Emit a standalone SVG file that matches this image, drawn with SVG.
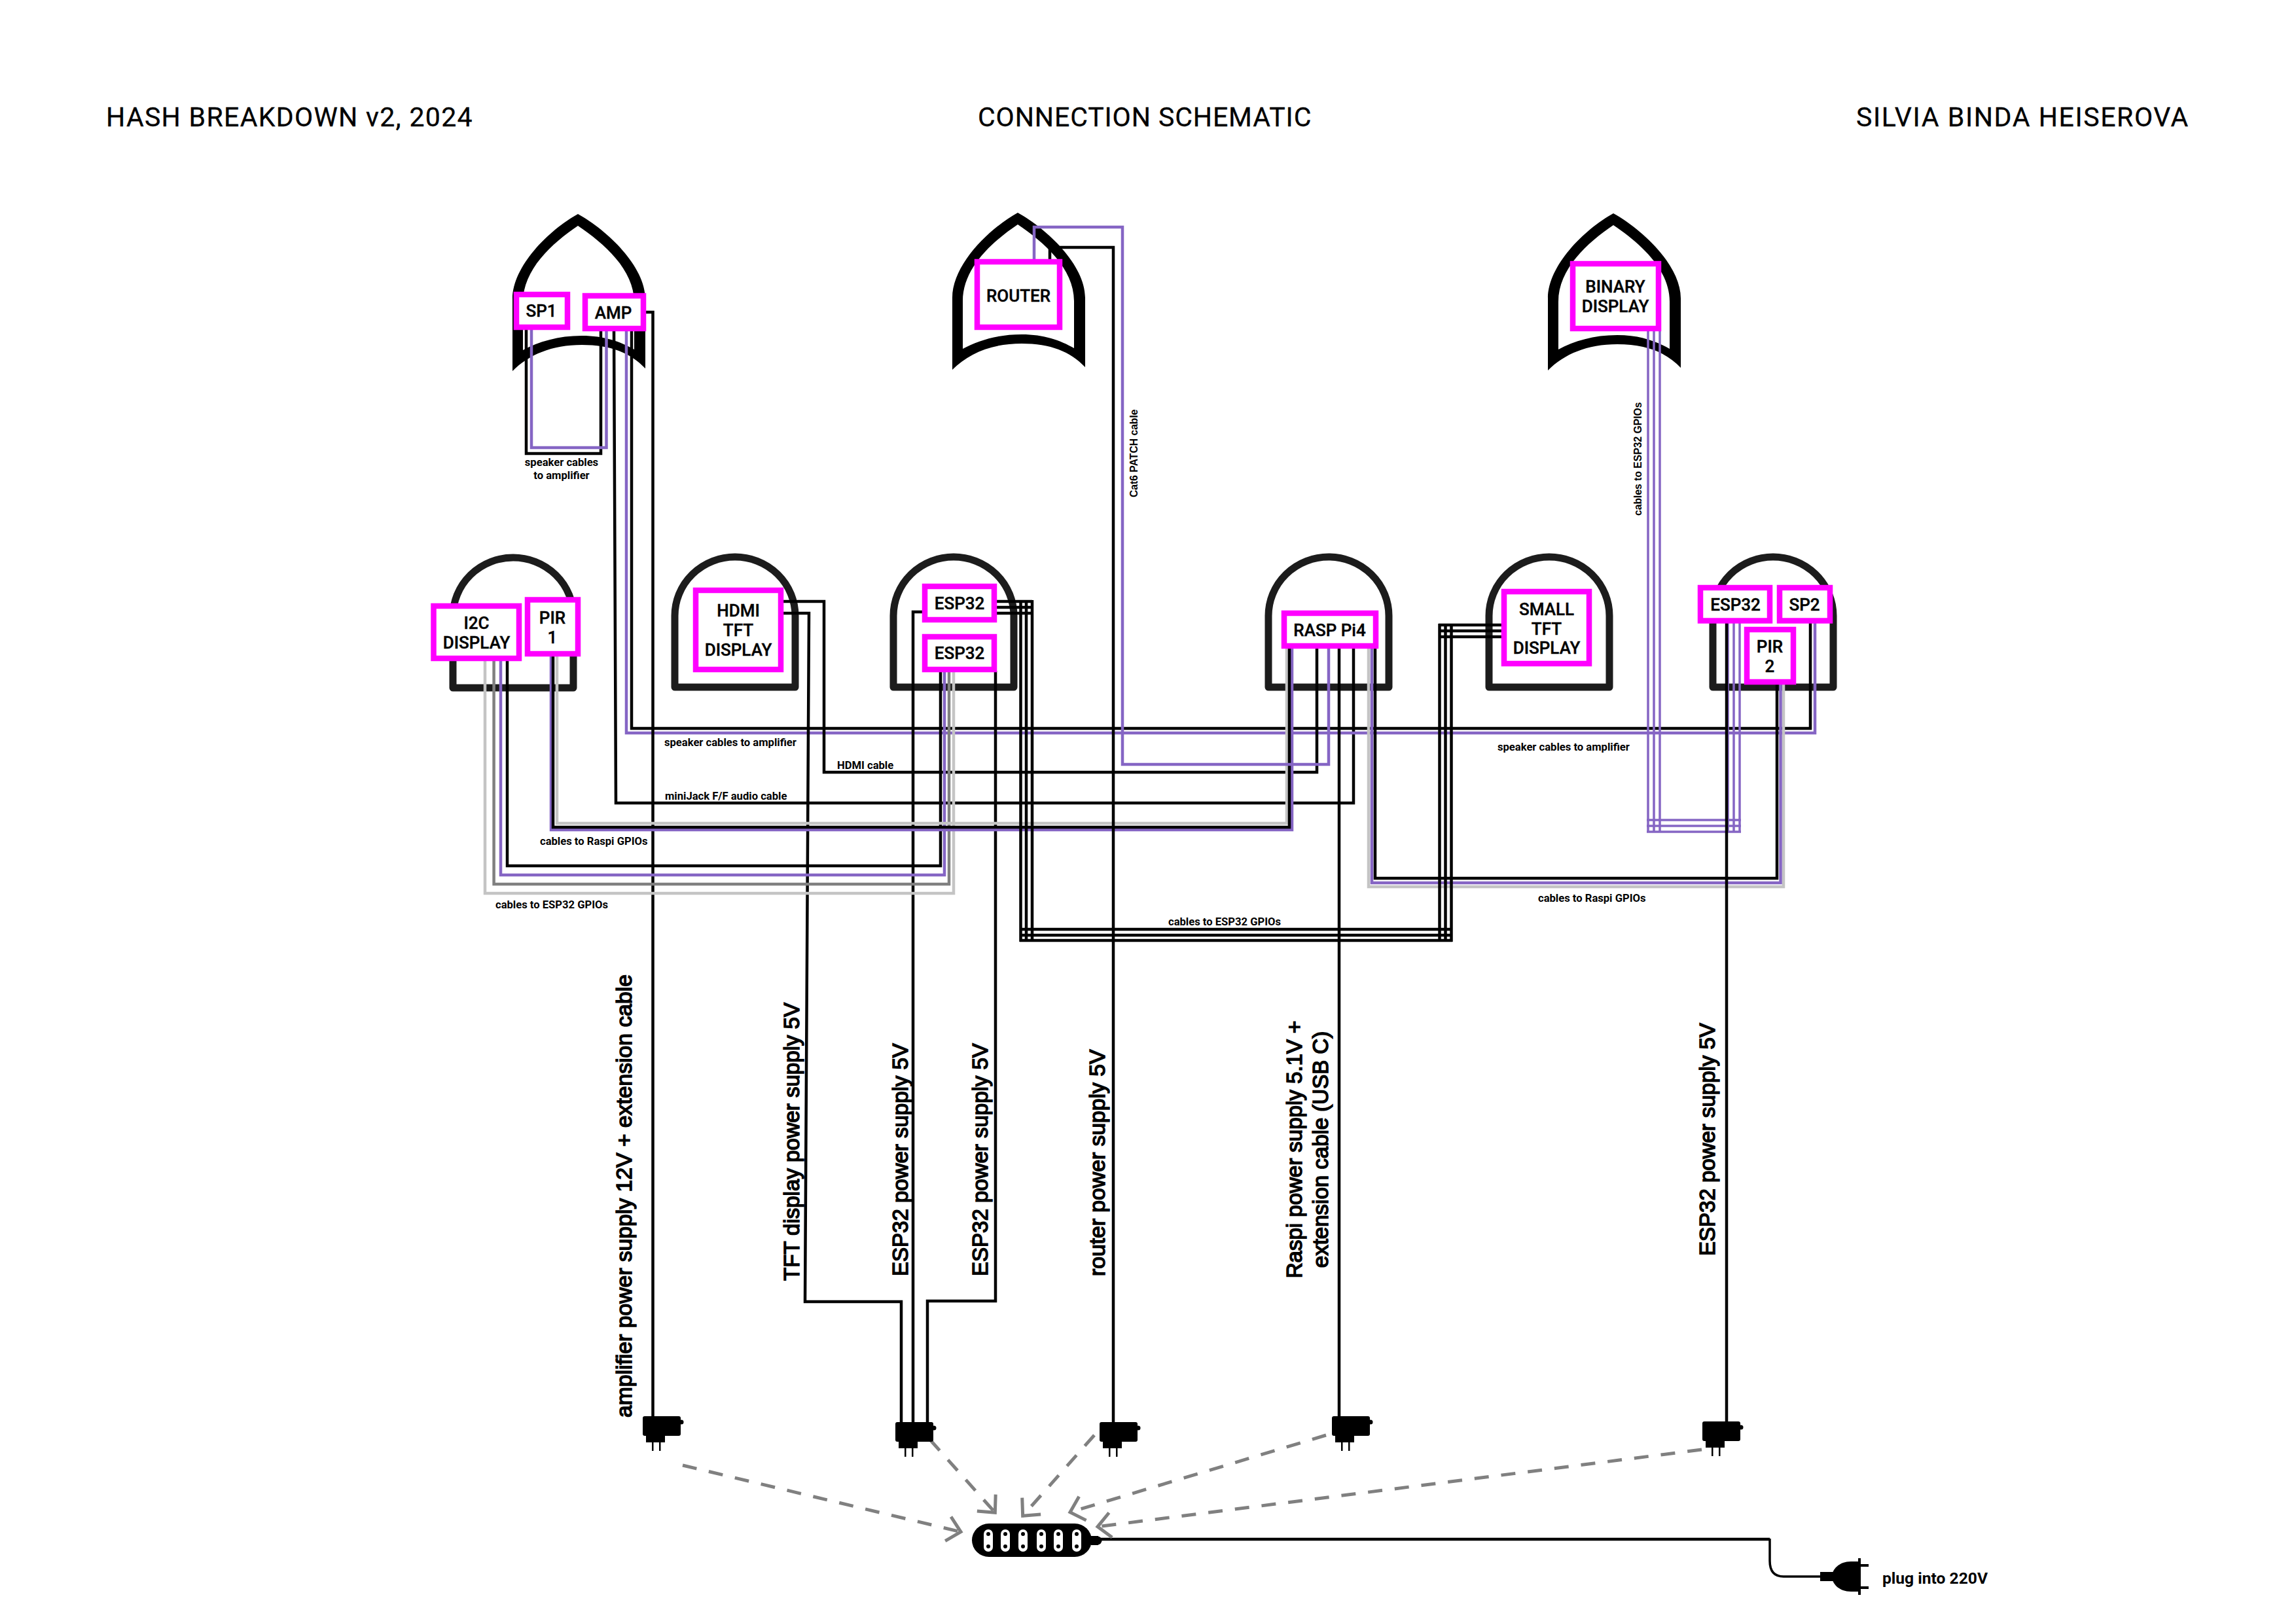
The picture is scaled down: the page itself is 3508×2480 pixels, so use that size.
<svg xmlns="http://www.w3.org/2000/svg" xmlns:xlink="http://www.w3.org/1999/xlink" width="3508" height="2480" viewBox="0 0 3508 2480">
<style>
text{fill:#000}
.head{font:400 41px "Roboto","Liberation Sans",sans-serif;letter-spacing:1.6px;stroke:#000;stroke-width:.3}
.box{fill:#fff;stroke:#ff00ff;stroke-width:8.5}
.bl{font:500 26px "Roboto","Liberation Sans",sans-serif;text-anchor:middle;stroke:#000;stroke-width:.4}
.sm{font:700 16.6px "Roboto","Liberation Sans",sans-serif}
.rot{font:700 15.7px "Liberation Sans",Arial,sans-serif}
.pw{font:400 33px "Liberation Sans",Arial,sans-serif;stroke:#000;stroke-width:1.5}
.pw2{font-size:33.7px}
.pl{font:700 24.6px "Roboto","Liberation Sans",sans-serif}
.ar{fill:none;stroke:#1c1c1c;stroke-width:11;stroke-linejoin:round}
.w{fill:none;stroke:#000;stroke-width:4.5;stroke-linejoin:miter}
.p{fill:none;stroke:#8565c4;stroke-width:4.5}
.p3{fill:none;stroke:#8565c4;stroke-width:3.5}
.g{fill:none;stroke:#808080;stroke-width:4.5}
.l{fill:none;stroke:#c4c4c4;stroke-width:4.5}
.d{fill:none;stroke:#808080;stroke-width:5;stroke-dasharray:22 19;marker-end:url(#chev)}
</style>
<defs>
<marker id="chev" markerUnits="userSpaceOnUse" markerWidth="40" markerHeight="50" refX="30" refY="25" orient="auto"><path d="M9,6 L29,25 L9,44" fill="none" stroke="#808080" stroke-width="5"/></marker>
<path id="pointed" fill-rule="evenodd" fill="#000" d="M100,0 C145,25 203,80 203,130 L203,236 C180,212 150,200 106,200 C60,200 25,215 0,240 L0,130 C0,80 55,25 100,0Z M100,18 C60,45 16,85 16,135 L16,208 C40,195 70,186 106,186 C140,186 165,195 186,207 L186,135 C186,85 140,45 100,18Z"/>
<path id="round" class="ar" d="M6,205 V96 A92,90 0 0 1 190,96 V205 Z"/>
<g id="adapter" fill="#000"><rect width="58" height="30" rx="3"/><circle cx="59" cy="9" r="3.5"/><rect x="5" y="30" width="29" height="10"/><rect x="14" y="40" width="2.5" height="13"/><rect x="25" y="40" width="2.5" height="13"/></g>
</defs>
<rect width="3508" height="2480" fill="#fff"/>

<g id="title-left"><text class="head" style="letter-spacing:1.3px" x="162" y="193">HASH BREAKDOWN v2, 2024</text></g>
<g id="title-center"><text class="head" style="letter-spacing:.9px" x="1494" y="193">CONNECTION SCHEMATIC</text></g>
<g id="title-right"><text class="head" x="2836" y="193">SILVIA BINDA HEISEROVA</text></g>

<g id="arch-speaker"><use href="#pointed" x="783" y="327"/></g>
<g id="arch-router"><use href="#pointed" x="1455" y="325"/></g>
<g id="arch-binary"><use href="#pointed" x="2365" y="326"/></g>
<g id="arch-i2c"><use href="#round" x="686" y="846"/></g>
<g id="arch-hdmi"><use href="#round" x="1025" y="845"/></g>
<g id="arch-esp"><use href="#round" x="1359" y="845"/></g>
<g id="arch-rasp"><use href="#round" x="1932" y="845"/></g>
<g id="arch-small"><use href="#round" x="2269" y="845"/></g>
<g id="arch-right"><use href="#round" x="2611" y="845"/></g>

<g id="connectors">
<path class="w" d="M804,504 V693 H918 V505"/>
<path class="p" d="M812,504 V684 H926.5 V505"/>
<path class="w" d="M938,505 L941,1227 H2068 V990"/>
<path class="p" d="M957,505 V1120 H2773 V952"/>
<path class="w" d="M965,505 V1113 H2766 V952"/>
<path class="w" d="M985,477 H997.5 V2165"/>
<path class="w" d="M1193,919 H1259 V1180 H2012 V990"/>
<path class="w" d="M1193,937 H1236 L1230,1989 H1377 V2173"/>
<path class="w" d="M1409,935 H1395 V2173"/>
<path class="w" d="M1521,1025 V1988 H1417 V2173"/>
<path class="l" d="M1457,1025 V1365 H741 V1008"/>
<path class="g" d="M1450,1025 V1351 H754.6 V1008"/>
<path class="p" d="M1443,1025 V1337 H765 V1008"/>
<path class="w" d="M1437,1025 V1323 H775 V1008"/>
<path class="l" d="M851,1002 V1258 H1966 V990"/>
<path class="p" d="M842,1002 V1268 H1974 V990"/>
<path class="w" d="M845,1002 V1264 H1970 V990"/>
<path class="p" d="M1580,397 V347 H1715 V1168 H2030 V990"/>
<path class="w" d="M1604,397 V378 H1701 V2173"/>
<path class="w" d="M2046,990 V2164"/>
<path class="l" d="M2091,990 V1355 H2725 V1044"/>
<path class="p" d="M2096,990 V1349 H2720.5 V1044"/>
<path class="w" d="M2101,990 V1342 H2715 V1044"/>
<path class="w" d="M1523,919 H1577 M1523,928 H1577 M1523,937 H1577 M1559.5,917 V1439 M1568,917 V1439 M1577,917 V1439 M1558,1420 H2219 M1558,1429 H2219 M1558,1437 H2219 M2199.5,953 V1439 M2208.5,953 V1439 M2217.5,953 V1439 M2198,955 H2294 M2198,964 H2294 M2198,973 H2294"/>
<path class="p3" d="M2518,506 V1272 M2527,506 V1272 M2536,506 V1272 M2516,1253 H2660 M2516,1262 H2660 M2516,1271 H2660 M2640,952 V1272 M2649,952 V1272 M2658,952 V1272"/>
<path class="w" d="M2638,950 V2172"/>
<path class="w" d="M1680,2352 H2704"/>
<path class="w" style="stroke-width:3.5" d="M2704,2351 V2385 Q2704,2409 2725,2409 H2785"/>
<line class="d" x1="1043" y1="2239" x2="1469" y2="2341"/>
<line class="d" x1="1421" y1="2200" x2="1521" y2="2312"/>
<line class="d" x1="1672" y1="2193" x2="1562" y2="2317"/>
<line class="d" x1="2026" y1="2193" x2="1634" y2="2311"/>
<line class="d" x1="2600" y1="2215" x2="1676" y2="2333"/>
</g>

<g id="label-speaker-local"><text class="sm" text-anchor="middle" x="858" y="712">speaker cables</text><text class="sm" text-anchor="middle" x="858" y="732">to amplifier</text></g>
<g id="labels-cables">
<text class="sm" x="1015" y="1140">speaker cables to amplifier</text>
<text class="sm" x="1279" y="1175">HDMI cable</text>
<text class="sm" x="1016" y="1222">miniJack F/F audio cable</text>
<text class="sm" x="825" y="1291">cables to Raspi GPIOs</text>
<text class="sm" x="757" y="1388">cables to ESP32 GPIOs</text>
<text class="sm" x="2288" y="1147">speaker cables to amplifier</text>
<text class="sm" x="2350" y="1378">cables to Raspi GPIOs</text>
<text class="sm" x="1785" y="1414">cables to ESP32 GPIOs</text>
<text class="rot" transform="translate(1738,760) rotate(-90)">Cat6 PATCH cable</text>
<text class="rot" transform="translate(2508,788) rotate(-90)">cables to ESP32 GPIOs</text>
<text class="pl" x="2876" y="2420">plug into 220V</text>
</g>
<g id="labels-power">
<text class="pw pw2" transform="translate(965,2166) rotate(-90)">amplifier power supply 12V + extension cable</text>
<text class="pw" transform="translate(1221,1957) rotate(-90)">TFT display power supply 5V</text>
<text class="pw" transform="translate(1387,1950) rotate(-90)">ESP32 power supply 5V</text>
<text class="pw" transform="translate(1509,1950) rotate(-90)">ESP32 power supply 5V</text>
<text class="pw pw2" transform="translate(1688,1950) rotate(-90)">router power supply 5V</text>
<text class="pw" text-anchor="middle" transform="translate(1989,1756.5) rotate(-90)">Raspi power supply 5.1V +</text>
<text class="pw" text-anchor="middle" transform="translate(2029,1756.5) rotate(-90)">extension cable (USB C)</text>
<text class="pw" transform="translate(2620,1919) rotate(-90)">ESP32 power supply 5V</text>
</g>

<g id="node-sp1"><rect class="box" x="789" y="450" width="78" height="50"/><text class="bl" x="827" y="484">SP1</text></g>
<g id="node-amp"><rect class="box" x="894" y="452" width="89" height="50"/><text class="bl" x="937" y="487">AMP</text></g>
<g id="node-router"><rect class="box" x="1493" y="400" width="126" height="100"/><text class="bl" x="1556" y="461">ROUTER</text></g>
<g id="node-binary"><rect class="box" x="2403" y="403" width="131" height="99"/><text class="bl" x="2468" y="447">BINARY</text><text class="bl" x="2468" y="477">DISPLAY</text></g>
<g id="node-i2c"><rect class="box" x="662.5" y="926" width="130.5" height="80"/><text class="bl" x="728" y="961">I2C</text><text class="bl" x="728" y="991">DISPLAY</text></g>
<g id="node-pir1"><rect class="box" x="806" y="916.5" width="77" height="82.5"/><text class="bl" x="844" y="953">PIR</text><text class="bl" x="844" y="983">1</text></g>
<g id="node-hdmi"><rect class="box" x="1063" y="902" width="130" height="121"/><text class="bl" x="1128" y="942">HDMI</text><text class="bl" x="1128" y="972">TFT</text><text class="bl" x="1128" y="1002">DISPLAY</text></g>
<g id="node-esp-a"><rect class="box" x="1413" y="896" width="106" height="51"/><text class="bl" x="1466" y="931">ESP32</text></g>
<g id="node-esp-b"><rect class="box" x="1413" y="973" width="106" height="50"/><text class="bl" x="1466" y="1007">ESP32</text></g>
<g id="node-rasp"><rect class="box" x="1962" y="937" width="140" height="50"/><text class="bl" x="2031.5" y="972">RASP Pi4</text></g>
<g id="node-small"><rect class="box" x="2298" y="904" width="130" height="110"/><text class="bl" x="2363" y="940">SMALL</text><text class="bl" x="2363" y="970">TFT</text><text class="bl" x="2363" y="999">DISPLAY</text></g>
<g id="node-esp-c"><rect class="box" x="2598" y="898" width="106" height="50.5"/><text class="bl" x="2651.5" y="933">ESP32</text></g>
<g id="node-sp2"><rect class="box" x="2719" y="898" width="77" height="50.5"/><text class="bl" x="2757" y="933">SP2</text></g>
<g id="node-pir2"><rect class="box" x="2669" y="962" width="71" height="80"/><text class="bl" x="2704" y="997">PIR</text><text class="bl" x="2704" y="1027">2</text></g>

<g id="node-adapter-amp"><use href="#adapter" x="982" y="2164"/></g>
<g id="node-adapter-esp"><use href="#adapter" x="1368" y="2173"/></g>
<g id="node-adapter-router"><use href="#adapter" x="1680" y="2173"/></g>
<g id="node-adapter-rasp"><use href="#adapter" x="2035" y="2164"/></g>
<g id="node-adapter-esp2"><use href="#adapter" x="2601" y="2172"/></g>

<g id="node-strip">
<rect x="1485" y="2328" width="183" height="51" rx="26" ry="25.5" fill="#000"/>
<rect x="1667" y="2347" width="11" height="14" fill="#000"/><circle cx="1677" cy="2354" r="6.5" fill="#000"/>
<g fill="#fff"><rect x="1503" y="2337" width="14" height="34" rx="7"/><rect x="1529" y="2337" width="14" height="34" rx="7"/><rect x="1556" y="2337" width="14" height="34" rx="7"/><rect x="1584" y="2337" width="14" height="34" rx="7"/><rect x="1610" y="2337" width="14" height="34" rx="7"/><rect x="1638" y="2337" width="14" height="34" rx="7"/></g>
<g fill="#000"><circle cx="1510" cy="2344" r="3"/><circle cx="1510" cy="2363" r="3"/><circle cx="1536" cy="2344" r="3"/><circle cx="1536" cy="2363" r="3"/><circle cx="1563" cy="2344" r="3"/><circle cx="1563" cy="2363" r="3"/><circle cx="1591" cy="2344" r="3"/><circle cx="1591" cy="2363" r="3"/><circle cx="1617" cy="2344" r="3"/><circle cx="1617" cy="2363" r="3"/><circle cx="1645" cy="2344" r="3"/><circle cx="1645" cy="2363" r="3"/></g>
</g>
<g id="node-plug" fill="#000">
<rect x="2781" y="2402" width="20" height="14"/>
<path d="M2840,2386 V2432 H2828 C2810,2432 2799,2420 2799,2409 C2799,2398 2810,2386 2828,2386Z"/>
<rect x="2839" y="2381" width="4" height="56"/>
<rect x="2840" y="2390" width="15" height="4"/><rect x="2840" y="2424" width="15" height="4"/>
</g>
</svg>
